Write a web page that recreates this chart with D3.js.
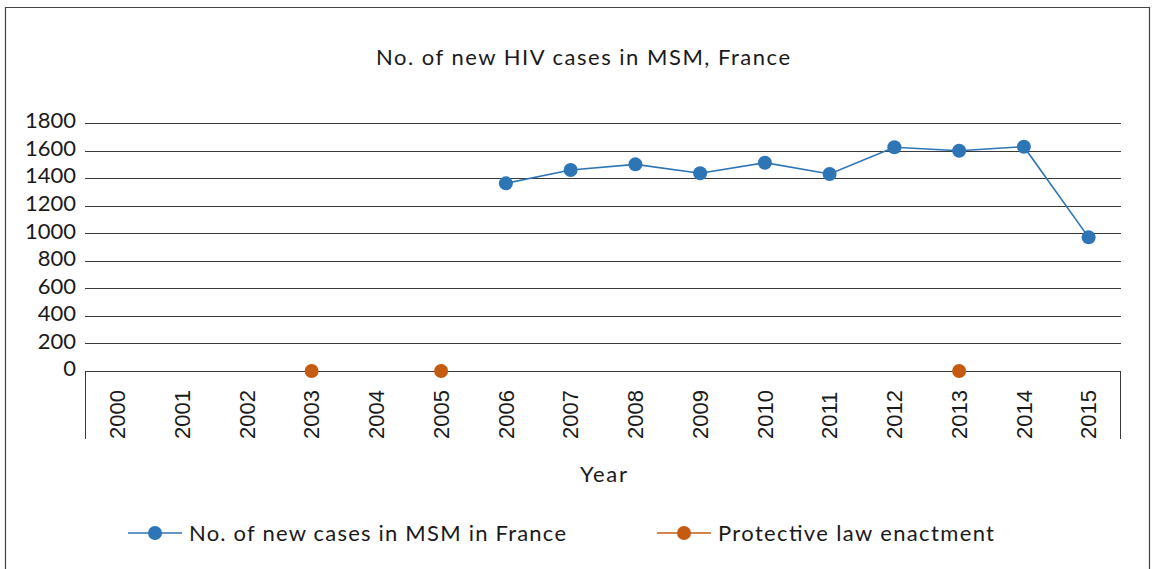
<!DOCTYPE html>
<html>
<head>
<meta charset="utf-8">
<script src="https://cdn.jsdelivr.net/npm/d3@7"></script>
<style>
  body { margin: 0; background: #fff; }
  text { fill: #1a1a1a; }
</style>
</head>
<body>
<script>
// data
var years = ["2000","2001","2002","2003","2004","2005","2006","2007",
             "2008","2009","2010","2011","2012","2013","2014","2015"];
var caseYears = ["2006","2007","2008","2009","2010","2011","2012","2013","2014","2015"];
var caseValues = [1362, 1459, 1500, 1435, 1512, 1430, 1624, 1599, 1628, 970];
var lawYears = ["2003","2005","2013"];
var lawValues = [0, 0, 0];
var yTicks = [0, 200, 400, 600, 800, 1000, 1200, 1400, 1600, 1800];

var outerWidth = 1152, outerHeight = 569;
var margin = {top: 123, right: 31, bottom: 198, left: 85},
    width = outerWidth - margin.left - margin.right,
    height = outerHeight - margin.top - margin.bottom;

var blue = "#2e75b6", orange = "#c55a11";
var sans = "Lato, 'Open Sans', sans-serif";

var x = d3.scaleBand().domain(years).range([0, width]);
var y = d3.scaleLinear().domain([0, 1800]).range([height, 0]);

var svg = d3.select("body").append("svg")
    .attr("width", outerWidth)
    .attr("height", outerHeight);

// outer frame
svg.append("path")
    .attr("d", "M5.5,569 V7.5 H1149.5 V569")
    .attr("fill", "none")
    .attr("stroke", "#444")
    .attr("stroke-width", 1.2);

// title
svg.append("text")
    .attr("x", 376).attr("y", 65)
    .attr("textLength", 414)
    .attr("lengthAdjust", "spacing")
    .style("font-family", sans)
    .style("font-size", "22px")
    .text("No. of new HIV cases in MSM, France");

var g = svg.append("g")
    .attr("transform", `translate(${margin.left},${margin.top})`);

// gridlines
g.selectAll(".grid")
    .data(yTicks)
  .enter().append("line")
    .attr("x1", 0).attr("x2", width)
    .attr("y1", d => Math.round(y(d)) + 0.5)
    .attr("y2", d => Math.round(y(d)) + 0.5)
    .attr("stroke", "#3a3a3a")
    .attr("stroke-width", 1);

// y axis labels
var yAxis = d3.axisLeft(y).tickValues(yTicks).tickFormat(d3.format("d"))
    .tickSize(0).tickPadding(9);
g.append("g")
    .call(yAxis)
    .call(s => s.select(".domain").remove())
    .selectAll("text")
    .style("font-family", sans)
    .style("font-size", "22px")
    .style("fill", "#1a1a1a")
    .attr("dy", "0.22em");

// x axis frame: vertical end lines under the zero line
g.append("path")
    .attr("d", `M0.5,${height} V${height + 68} M${width - 0.5},${height} V${height + 68}`)
    .attr("stroke", "#3a3a3a")
    .attr("fill", "none");

// x axis labels (rotated)
var xAxis = d3.axisBottom(x).tickSize(0);
g.append("g")
    .attr("transform", `translate(0,${height})`)
    .call(xAxis)
    .call(s => s.select(".domain").remove())
    .selectAll("text")
    .style("font-family", "'Liberation Sans', Arial, sans-serif")
    .style("font-size", "22px")
    .style("fill", "#1a1a1a")
    .attr("text-anchor", "start")
    .attr("transform", "rotate(-90)")
    .attr("x", -68)
    .attr("y", 0)
    .attr("dy", "0.35em")
    .attr("dx", 0);

// axis title
svg.append("text")
    .attr("x", 580).attr("y", 482)
    .attr("textLength", 47)
    .attr("lengthAdjust", "spacing")
    .style("font-family", sans)
    .style("font-size", "22px")
    .text("Year");

// cases series
var cases = caseYears.map((d, i) => ({year: d, value: caseValues[i]}));
var laws = lawYears.map((d, i) => ({year: d, value: lawValues[i]}));

var line = d3.line()
    .x(d => x(d.year) + x.bandwidth() / 2)
    .y(d => y(d.value));

g.append("path")
    .datum(cases)
    .attr("d", line)
    .attr("fill", "none")
    .attr("stroke", blue)
    .attr("stroke-width", 1.6);

g.selectAll(".case")
    .data(cases)
  .enter().append("circle")
    .attr("class", "case")
    .attr("cx", d => x(d.year) + x.bandwidth() / 2)
    .attr("cy", d => y(d.value))
    .attr("r", 7)
    .attr("fill", blue);

g.selectAll(".law")
    .data(laws)
  .enter().append("circle")
    .attr("class", "law")
    .attr("cx", d => x(d.year) + x.bandwidth() / 2)
    .attr("cy", d => y(d.value))
    .attr("r", 7)
    .attr("fill", orange);

// legend
var legend = [
  {label: "No. of new cases in MSM in France", color: blue, x: 128, len: 377},
  {label: "Protective law enactment", color: orange, x: 657, len: 276}
];
var lg = svg.selectAll(".legend")
    .data(legend)
  .enter().append("g")
    .attr("transform", d => `translate(${d.x},533)`);
lg.append("line")
    .attr("x1", 0).attr("x2", 54)
    .attr("stroke", d => d.color)
    .attr("stroke-width", 1.6);
lg.append("circle")
    .attr("cx", 27).attr("r", 7)
    .attr("fill", d => d.color);
lg.append("text")
    .attr("x", 61).attr("dy", "0.35em")
    .attr("textLength", d => d.len)
    .attr("lengthAdjust", "spacing")
    .style("font-family", sans)
    .style("font-size", "22px")
    .text(d => d.label);
</script>
</body>
</html>
